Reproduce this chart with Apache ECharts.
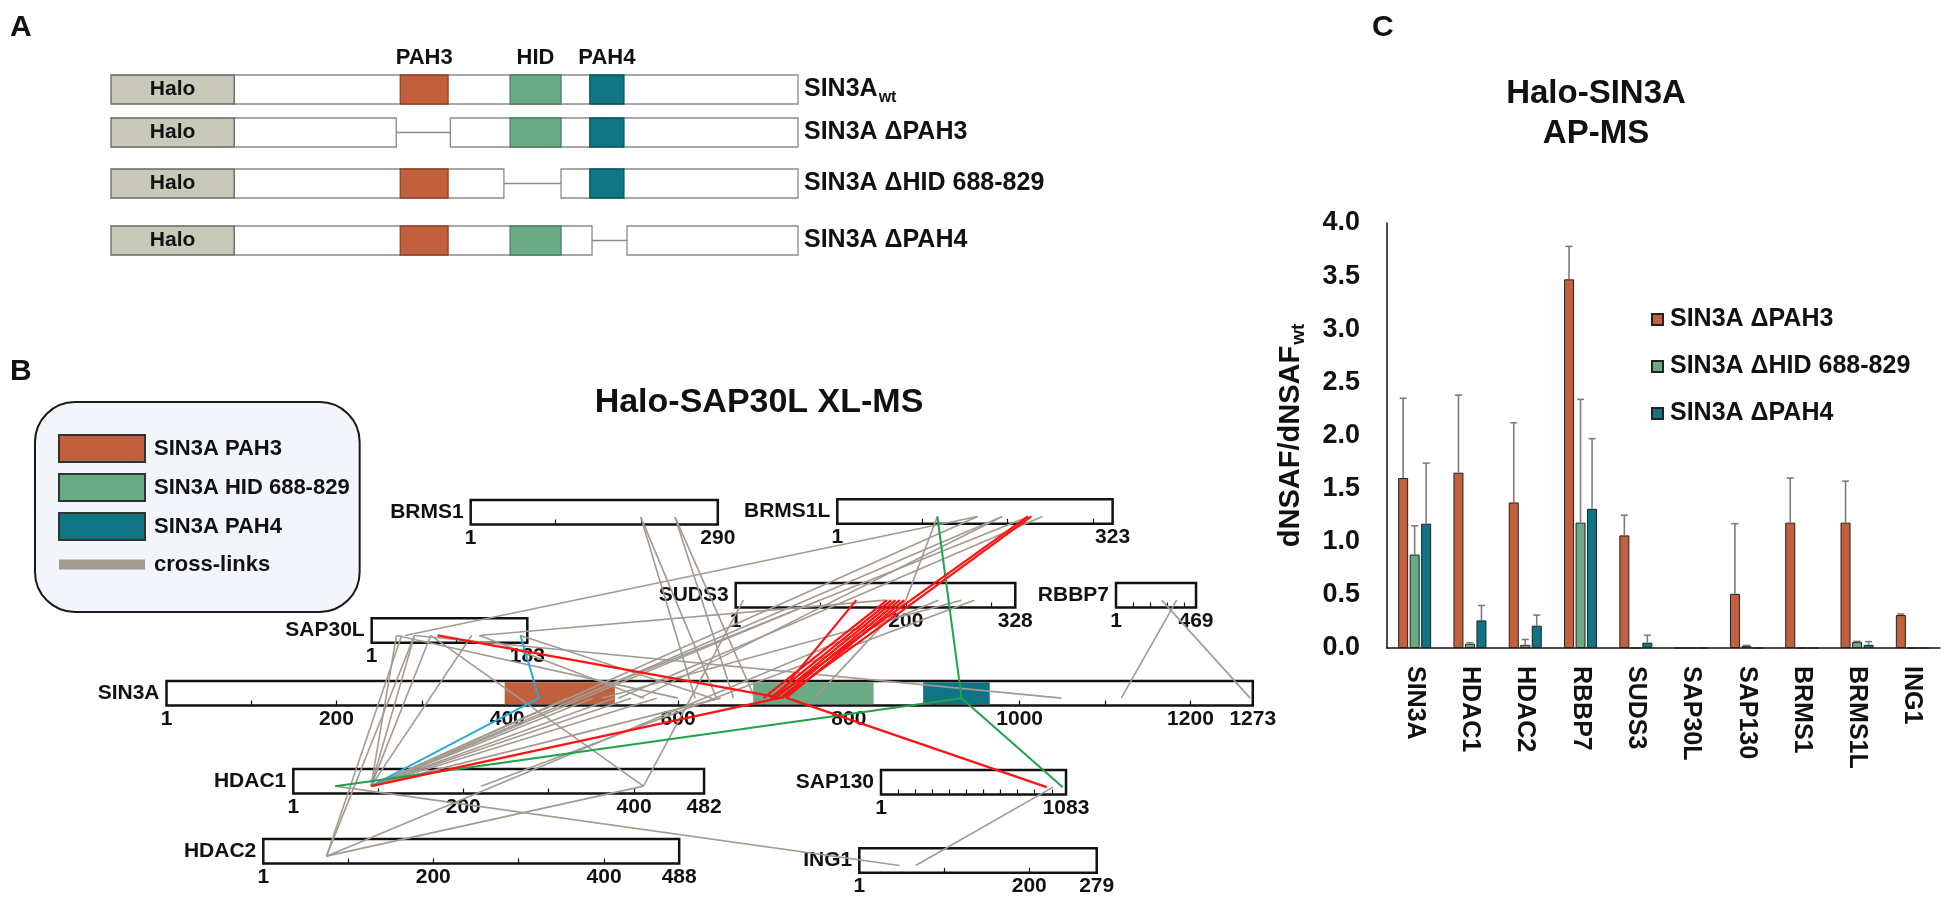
<!DOCTYPE html>
<html><head><meta charset="utf-8">
<script src="https://cdn.jsdelivr.net/npm/echarts@6/dist/echarts.min.js"></script>
<style>html,body{margin:0;padding:0;background:#fff}#c{width:1950px;height:901px}</style>
</head><body><div id="c"></div>
<script>
// ================= DATA =================
// Panel A: SIN3A constructs (schematic residue units)
const sin3aLength = 1273;
const haloSpan = [-278, 0];
const domainNames = ['PAH3', 'HID', 'PAH4'];
const domainStarts = [375, 623, 803];
const domainEnds = [483, 738, 880];
const constructNames = ['SIN3A{sub|wt}', 'SIN3A ΔPAH3', 'SIN3A ΔHID 688-829', 'SIN3A ΔPAH4'];
const constructDeletions = [null, [366, 488], [609, 738], [808, 887]];
const constructRemovedDomain = [-1, 0, 1, 2];

// Panel B: proteins and cross-links
const proteinNames = ['BRMS1', 'BRMS1L', 'SUDS3', 'RBBP7', 'SAP30L', 'SIN3A', 'HDAC1', 'SAP130', 'HDAC2', 'ING1'];
const proteinLengths = [290, 323, 328, 469, 183, 1273, 482, 1083, 488, 279];
const proteinTickLabels = [[1, 290], [1, 323], [1, 200, 328], [1, 469], [1, 183],
  [1, 200, 400, 600, 800, 1000, 1200, 1273], [1, 200, 400, 482], [1, 1083], [1, 200, 400, 488], [1, 200, 279]];
const sin3aDomainNames = ['SIN3A PAH3', 'SIN3A HID 688-829', 'SIN3A PAH4'];
const sin3aDomainStarts = [397, 688, 887];
const sin3aDomainEnds = [526, 829, 965];

const xlGray = [
  ['SAP30L', 30, 'HDAC1', 92], ['SAP30L', 51, 'HDAC1', 92], ['SAP30L', 70, 'HDAC1', 92], ['SAP30L', 118, 'HDAC1', 92],
  ['SAP30L', 36, 'HDAC2', 75], ['SAP30L', 51, 'HDAC2', 75], ['SAP30L', 70, 'HDAC1', 411],
  ['SAP30L', 51, 'SIN3A', 1049], ['SAP30L', 127, 'SUDS3', 176], ['SAP30L', 127, 'SIN3A', 560],
  ['SAP30L', 30, 'SIN3A', 600], ['SAP30L', 175, 'SIN3A', 640],
  ['HDAC1', 92, 'SIN3A', 470], ['HDAC1', 92, 'SIN3A', 500], ['HDAC1', 92, 'SIN3A', 525], ['HDAC1', 92, 'SIN3A', 545],
  ['HDAC1', 92, 'SIN3A', 575], ['HDAC1', 92, 'SIN3A', 650], ['HDAC1', 92, 'SUDS3', 99],
  ['HDAC1', 92, 'BRMS1L', 165], ['HDAC1', 92, 'BRMS1L', 194], ['HDAC1', 221, 'SUDS3', 280], ['HDAC1', 50, 'ING1', 48],
  ['HDAC2', 75, 'SUDS3', 238], ['HDAC2', 75, 'HDAC1', 411], ['HDAC1', 411, 'SUDS3', 10],
  ['BRMS1', 200, 'SIN3A', 645], ['BRMS1', 200, 'SIN3A', 620], ['BRMS1', 240, 'SIN3A', 665], ['BRMS1', 240, 'SIN3A', 690],
  ['BRMS1L', 241, 'SIN3A', 530], ['BRMS1L', 225, 'SIN3A', 480], ['BRMS1L', 194, 'SIN3A', 555], ['BRMS1L', 165, 'SAP30L', 40],
  ['BRMS1L', 118, 'SUDS3', 200], ['SUDS3', 265, 'SIN3A', 510], ['SUDS3', 200, 'SIN3A', 760],
  ['RBBP7', 268, 'SIN3A', 1270], ['RBBP7', 356, 'SIN3A', 1119], ['SAP130', 1007, 'ING1', 67]
];
const xlBlue = [['HDAC1', 92, 'SIN3A', 437], ['SIN3A', 437, 'SAP30L', 175]];
const xlGreen = [['SIN3A', 932, 'BRMS1L', 118], ['SIN3A', 932, 'SAP130', 1064], ['SIN3A', 932, 'HDAC1', 50]];
const xlRed = [
  ['SAP30L', 78, 'SIN3A', 722], ['HDAC1', 92, 'SIN3A', 718], ['SIN3A', 728, 'SAP130', 970],
  ['SIN3A', 700, 'SUDS3', 178], ['SIN3A', 708, 'SUDS3', 183], ['SIN3A', 714, 'SUDS3', 188],
  ['SIN3A', 720, 'SUDS3', 193], ['SIN3A', 726, 'SUDS3', 198], ['SIN3A', 712, 'BRMS1L', 224],
  ['SIN3A', 722, 'BRMS1L', 228], ['SIN3A', 714, 'SUDS3', 142]
];

// Panel C: AP-MS bar chart
const categoriesC = ['SIN3A', 'HDAC1', 'HDAC2', 'RBBP7', 'SUDS3', 'SAP30L', 'SAP130', 'BRMS1', 'BRMS1L', 'ING1'];
const seriesNamesC = ['SIN3A ΔPAH3', 'SIN3A ΔHID 688-829', 'SIN3A ΔPAH4'];
const dPAH3 = [1.60, 1.65, 1.37, 3.47, 1.06, 0, 0.51, 1.18, 1.18, 0.31];
const dPAH3Err = [0.75, 0.73, 0.75, 0.31, 0.19, 0, 0.66, 0.42, 0.39, 0.01];
const dHID = [0.88, 0.04, 0.03, 1.18, 0, 0, 0.02, 0, 0.056, 0];
const dHIDErr = [0.27, 0.01, 0.05, 1.16, 0, 0, 0.005, 0, 0.006, 0];
const dPAH4 = [1.17, 0.26, 0.21, 1.31, 0.05, 0, 0, 0, 0.03, 0];
const dPAH4Err = [0.57, 0.14, 0.10, 0.66, 0.07, 0, 0, 0, 0.03, 0];
const yTicksC = [0, 0.5, 1, 1.5, 2, 2.5, 3, 3.5, 4];

// ================= STYLE / LAYOUT =================
const FONT = '"Liberation Sans", Arial, Helvetica, sans-serif';
const INK = '#111';
const domainColors = ['#c2603d', '#6aaa84', '#0f7584'];
const domainStrokes = ['#8e4428', '#4b8063', '#0a5661'];
const haloColor = '#c9c9ba';
const barColorsC = ['#c2603d', '#6aaa84', '#0f7584'];
const xlStyles = [[xlGray, '#a39a90', 1.6], [xlBlue, '#2aa9e0', 2], [xlGreen, '#1fa24a', 2], [xlRed, '#ff1212', 2.2]];

const rowLayout = { left: 111, width: 687, tops: [75, 118, 169, 226], height: 29 };
const proteinLayout = {
  BRMS1: [470.7, 500, 0.855], BRMS1L: [837.3, 499.3, 0.855], SUDS3: [735.7, 583, 0.855], RBBP7: [1116, 583, 0.171],
  SAP30L: [371.7, 618.3, 0.855], SIN3A: [166.5, 681, 0.854], HDAC1: [293.3, 769, 0.854], SAP130: [881, 770, 0.171],
  HDAC2: [263.3, 839, 0.854], ING1: [859.3, 848.3, 0.854]
};
const boxH = 24.5;
const attachY = 0.3;

const chart = echarts.init(document.getElementById('c'), null, { renderer: 'canvas', width: 1950, height: 901 });
const grids = [], xAxes = [], yAxes = [], series = [];
const txt = (size, extra) => Object.assign({ fontFamily: FONT, fontWeight: 'bold', fontSize: size, color: INK }, extra || {});
const plainNum = v => String(Math.round(v));

// ---------- Panel A ----------
constructNames.forEach((nm, r) => {
  const gi = grids.length;
  grids.push({ left: rowLayout.left, top: rowLayout.tops[r], width: rowLayout.width, height: rowLayout.height,
    show: false, containLabel: false, outerBoundsMode: 'none' });
  xAxes.push({ gridIndex: gi, type: 'value', min: haloSpan[0], max: sin3aLength, show: false });
  yAxes.push({ gridIndex: gi, type: 'value', min: 0, max: 1, position: 'right',
    axisLine: { show: false }, axisTick: { show: false }, splitLine: { show: false },
    axisLabel: txt(25, { customValues: [0.5], formatter: () => nm, margin: 6,
      rich: { sub: { fontFamily: FONT, fontWeight: 'bold', fontSize: 16, color: INK, padding: [16, 0, 0, 1] } } }) });
  series.push({ type: 'custom', xAxisIndex: gi, yAxisIndex: gi, silent: true, data: [[r]],
    renderItem: (params, api) => {
      const row = api.value(0);
      const ch = [];
      const rect = (x0, x1, fill, stroke) => {
        const p0 = api.coord([x0, 1]), p1 = api.coord([x1, 0]);
        return { type: 'rect', shape: { x: p0[0], y: p0[1], width: p1[0] - p0[0], height: p1[1] - p0[1] },
          style: { fill: fill, stroke: stroke, lineWidth: 1.3 } };
      };
      const del = constructDeletions[row];
      if (del) {
        ch.push(rect(0, del[0], '#fff', '#8a8a8a'));
        ch.push(rect(del[1], sin3aLength, '#fff', '#8a8a8a'));
        const a = api.coord([del[0], 0.5]), b = api.coord([del[1], 0.5]);
        ch.push({ type: 'line', shape: { x1: a[0], y1: a[1], x2: b[0], y2: b[1] }, style: { stroke: '#8a8a8a', lineWidth: 1.3 } });
      } else {
        ch.push(rect(0, sin3aLength, '#fff', '#8a8a8a'));
      }
      domainNames.forEach((d, k) => {
        if (k !== constructRemovedDomain[row]) ch.push(rect(domainStarts[k], domainEnds[k], domainColors[k], domainStrokes[k]));
      });
      ch.push(rect(haloSpan[0], haloSpan[1], haloColor, '#666'));
      const hc = api.coord([(haloSpan[0] + haloSpan[1]) / 2, 0.5]);
      ch.push({ type: 'text', x: hc[0], y: hc[1], style: { text: 'Halo', font: 'bold 21px ' + FONT, fill: INK, align: 'center', verticalAlign: 'middle' } });
      return { type: 'group', children: ch };
    } });
});
// domain labels above the first construct
series.push({ type: 'custom', xAxisIndex: 0, yAxisIndex: 0, silent: true, clip: false,
  data: domainNames.map((n, k) => [k]),
  renderItem: (params, api) => {
    const k = api.value(0);
    const c = api.coord([(domainStarts[k] + domainEnds[k]) / 2, 1]);
    return { type: 'text', x: c[0], y: c[1] - 17, style: { text: domainNames[k], font: 'bold 22px ' + FONT, fill: INK, align: 'center', verticalAlign: 'middle' } };
  } });

// ---------- Panel B ----------
const proteinGridIndex = {};
proteinNames.forEach((nm, i) => {
  const L = proteinLayout[nm], len = proteinLengths[i];
  const gi = grids.length;
  proteinGridIndex[nm] = gi;
  const ticks = [];
  for (let t = 100; t < len; t += 100) ticks.push(t);
  grids.push({ left: L[0], top: L[1], width: (len - 1) * L[2], height: boxH, show: true, backgroundColor: '#fff',
    borderColor: INK, borderWidth: 2.5, containLabel: false, outerBoundsMode: 'none' });
  xAxes.push({ gridIndex: gi, type: 'value', min: 1, max: len, axisLine: { show: false }, splitLine: { show: false },
    axisTick: { show: true, inside: true, length: 5, customValues: ticks, lineStyle: { color: INK, width: 1.2 } },
    axisLabel: txt(21, { customValues: proteinTickLabels[i], margin: 3, formatter: plainNum }) });
  yAxes.push({ gridIndex: gi, type: 'value', min: 0, max: 1, axisLine: { show: false }, axisTick: { show: false },
    splitLine: { show: false }, axisLabel: txt(21, { customValues: [0.5], formatter: () => nm, margin: 7 }) });
});
const sinGi = proteinGridIndex['SIN3A'];
sin3aDomainNames.forEach((nm, k) => {
  series.push({ name: nm, type: 'custom', xAxisIndex: sinGi, yAxisIndex: sinGi, silent: true,
    itemStyle: { color: domainColors[k], borderColor: '#333', borderWidth: 1 },
    data: [[sin3aDomainStarts[k], sin3aDomainEnds[k]]],
    renderItem: (params, api) => {
      const p0 = api.coord([api.value(0), 1]), p1 = api.coord([api.value(1), 0]);
      return { type: 'rect', shape: { x: p0[0], y: p0[1] + 1.3, width: p1[0] - p0[0], height: p1[1] - p0[1] - 2.6 },
        style: { fill: domainColors[k] } };
    } });
});
series.push({ name: 'cross-links', type: 'custom', xAxisIndex: sinGi, yAxisIndex: sinGi, silent: true,
  itemStyle: { color: '#a39a90' }, data: [], renderItem: () => null });

// ---------- Panel C ----------
const cGi = grids.length;
grids.push({ left: 1387, top: 223, width: 553, height: 425, show: false, containLabel: false, outerBoundsMode: 'none' });
xAxes.push({ gridIndex: cGi, type: 'category', data: categoriesC,
  axisLine: { show: true, lineStyle: { color: INK, width: 1.5 } }, axisTick: { show: false }, splitLine: { show: false },
  axisLabel: txt(25, { rotate: -90, margin: 18, interval: 0 }) });
yAxes.push({ gridIndex: cGi, type: 'value', min: 0, max: 4, interval: 0.5,
  axisLine: { show: true, lineStyle: { color: INK, width: 1.5 } }, axisTick: { show: false }, splitLine: { show: false },
  axisLabel: txt(27, { margin: 27, customValues: yTicksC, formatter: v => v.toFixed(1) }),
  name: 'dNSAF/dNSAF{sub|wt}', nameLocation: 'middle', nameRotate: 90, nameGap: 79,
  nameTextStyle: txt(29, { rich: { sub: { fontFamily: FONT, fontWeight: 'bold', fontSize: 19, color: INK, padding: [15, 0, 0, 1] } } }) });
const valsC = [dPAH3, dHID, dPAH4], errsC = [dPAH3Err, dHIDErr, dPAH4Err];
const barW = 10, barGapPx = 1.5;
seriesNamesC.forEach((nm, k) => {
  series.push({ name: nm, type: 'bar', xAxisIndex: cGi, yAxisIndex: cGi, barWidth: barW, barGap: '15%',
    itemStyle: { color: barColorsC[k], borderColor: '#222', borderWidth: 1 }, data: valsC[k] });
});
seriesNamesC.forEach((nm, k) => {
  const off = (k - 1) * (barW + barGapPx);
  series.push({ type: 'custom', xAxisIndex: cGi, yAxisIndex: cGi, z: 5, silent: true,
    data: categoriesC.map((c, i) => [i, valsC[k][i], errsC[k][i]]),
    renderItem: (params, api) => {
      const v = api.value(1), e = api.value(2);
      if (!(e > 0)) return null;
      const b = api.coord([api.value(0), v]), t = api.coord([api.value(0), v + e]);
      const x = b[0] + off;
      const st = { stroke: '#7c7c7c', lineWidth: 1.6 };
      return { type: 'group', children: [
        { type: 'line', shape: { x1: x, y1: b[1], x2: x, y2: t[1] }, style: st },
        { type: 'line', shape: { x1: x - 3.5, y1: t[1], x2: x + 3.5, y2: t[1] }, style: st }] };
    } });
});

const option = {
  animation: false,
  backgroundColor: '#fff',
  textStyle: { fontFamily: FONT },
  title: [
    { text: 'A', left: 10, top: 13, padding: 0, textStyle: txt(30) },
    { text: 'B', left: 10, top: 357, padding: 0, textStyle: txt(30) },
    { text: 'C', left: 1372, top: 13, padding: 0, textStyle: txt(30) },
    { text: 'Halo-SAP30L XL-MS', left: 759, top: 385, padding: 0, textAlign: 'center', textStyle: txt(34, { lineHeight: 36 }) },
    { text: 'Halo-SIN3A\nAP-MS', left: 1596, top: 74, padding: 0, textAlign: 'center', textStyle: txt(33, { lineHeight: 40 }) }
  ],
  legend: [
    { data: sin3aDomainNames.map(n => ({ name: n, icon: 'rect' })).concat([{ name: 'cross-links', icon: 'path://M0,0 M86,27 M0,8.5 L86,8.5 L86,18.5 L0,18.5 Z', itemStyle: { borderWidth: 0 } }]),
      orient: 'vertical', left: 35, top: 402, padding: [32, 10, 34, 23], itemWidth: 86, itemHeight: 27, itemGap: 10,
      backgroundColor: '#f2f5f9', borderColor: '#1a1a1a', borderWidth: 2, borderRadius: 40, selectedMode: false,
      textStyle: txt(22, { padding: [0, 0, 0, 4] }) },
    { data: seriesNamesC, orient: 'vertical', left: 1651, top: 307, itemWidth: 11, itemHeight: 11, itemGap: 22,
      icon: 'rect', selectedMode: false, padding: 0, textStyle: txt(25, { padding: [0, 0, 0, 2] }) }
  ],
  grid: grids, xAxis: xAxes, yAxis: yAxes, series: series
};
chart.setOption(option);

// cross-links: endpoints converted through each protein's axes
function pix(nm, res) { return chart.convertToPixel({ gridIndex: proteinGridIndex[nm] }, [res, attachY]); }
const els = [];
xlStyles.forEach(([arr, col, w]) => arr.forEach(l => {
  const a = pix(l[0], l[1]), b = pix(l[2], l[3]);
  els.push({ type: 'line', z: 100, silent: true, shape: { x1: a[0], y1: a[1], x2: b[0], y2: b[1] }, style: { stroke: col, lineWidth: w } });
}));
chart.setOption({ graphic: { elements: els } });
</script></body></html>
